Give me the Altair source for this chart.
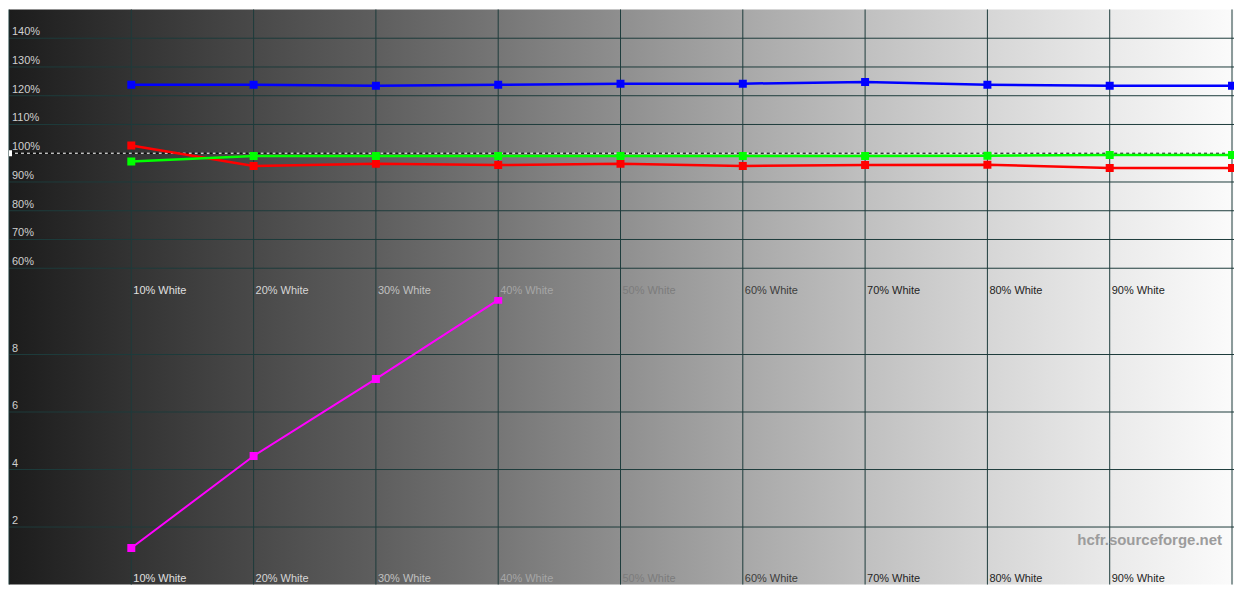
import altair as alt
import pandas as pd

# ---------------- data ----------------
levels = [10, 20, 30, 40, 50, 60, 70, 80, 90, 100]
level_labels = ["10% White", "20% White", "30% White", "40% White", "50% White",
                "60% White", "70% White", "80% White", "90% White"]
label_levels = [10, 20, 30, 40, 50, 60, 70, 80, 90]
red = [102.7, 95.6, 96.3, 95.9, 96.3, 95.6, 95.9, 96.0, 94.9, 94.9]
green = [97.1, 99.0, 99.0, 99.0, 99.0, 99.0, 99.0, 99.1, 99.4, 99.4]
blue = [123.8, 123.8, 123.5, 123.8, 124.2, 124.2, 124.8, 123.8, 123.5, 123.5]
de_levels = [10, 20, 30, 40]
delta_e = [1.27, 4.47, 7.15, 9.9]
pct_ticks = [60, 70, 80, 90, 100, 110, 120, 130, 140]
pct_grid = [60, 70, 80, 90, 110, 120, 130, 140]
pct_tick_labels = ["60%", "70%", "80%", "90%", "100%", "110%", "120%", "130%", "140%"]
de_ticks = [2, 4, 6, 8]
de_tick_labels = ["2", "4", "6", "8"]
x_grid = [0, 10, 20, 30, 40, 50, 60, 70, 80, 90, 100]
reference_level = [100]
watermark = ["hcfr.sourceforge.net"]

# ---------------- style ----------------
W = 1227
H = 288
FONT = "Liberation Sans"
GRID = "#1d3b3b"
label_colors = ["#e0e0e0", "#d6d6d6", "#c0c0c0", "#a6a6a6", "#7c7c7c",
                "#3c3c3c", "#242424", "#242424", "#242424"]
bg_stops = ["#1c1c1c", "#333333", "#494949", "#5e5e5e", "#767676", "#8f8f8f",
            "#a8a8a8", "#c0c0c0", "#d6d6d6", "#eaeaea", "#fbfbfb"]

gradient = alt.LinearGradient(
    gradient="linear", x1=0, x2=1, y1=0, y2=0,
    stops=[alt.GradientStop(offset=i / 10, color=c) for i, c in enumerate(bg_stops)],
)

xs = alt.Scale(domain=[0, 100], range=[0, W - 2], nice=False, zero=False)


def panel(ydomain, grid_vals, tick_vals, tick_labels, series, extra):
    ys = alt.Scale(domain=ydomain, nice=False, zero=False)
    one = pd.DataFrame({"a": [0]})
    bg = alt.Chart(one).mark_rect(fill=gradient, stroke=None).encode(
        x=alt.value(0), x2=alt.value(W), y=alt.value(0), y2=alt.value(H))
    hgrid = alt.Chart(pd.DataFrame({"v": grid_vals})).mark_rule(
        color=GRID, strokeWidth=1).encode(
        y=alt.Y("v:Q", scale=ys, axis=None), x=alt.value(0), x2=alt.value(W))
    vgrid = alt.Chart(pd.DataFrame({"v": x_grid})).mark_rule(
        color=GRID, strokeWidth=1).encode(
        x=alt.X("v:Q", scale=xs, axis=None), y=alt.value(0), y2=alt.value(H))
    ylab = alt.Chart(pd.DataFrame({"v": tick_vals, "t": tick_labels})).mark_text(
        font=FONT, fontSize=11, align="left", baseline="alphabetic", dy=-3,
        color="#cfcfcf").encode(
        y=alt.Y("v:Q", scale=ys, axis=None), x=alt.value(3), text="t:N")
    xlab = alt.Chart(pd.DataFrame({"v": label_levels, "t": level_labels})).mark_text(
        font=FONT, fontSize=11, align="left", baseline="alphabetic", dx=2).encode(
        x=alt.X("v:Q", scale=xs, axis=None), y=alt.value(H - 3), text="t:N",
        color=alt.Color("t:N", scale=alt.Scale(domain=level_labels, range=label_colors),
                        legend=None))
    layers = [bg, hgrid, vgrid, ylab, xlab] + extra
    for xv, yv, col, sw in series:
        df = pd.DataFrame({"x": xv, "y": yv})
        base = alt.Chart(df).encode(
            x=alt.X("x:Q", scale=xs, axis=None), y=alt.Y("y:Q", scale=ys, axis=None))
        layers.append(base.mark_line(color=col, strokeWidth=sw, clip=True))
        layers.append(base.mark_square(color=col, size=64, opacity=1, clip=True))
    return alt.layer(*layers).properties(width=W, height=H)


ys_top = alt.Scale(domain=[50, 150], nice=False, zero=False)
ref_df = pd.DataFrame({"v": reference_level})
dash_w = alt.Chart(ref_df).mark_rule(color="#ffffff", strokeWidth=1, strokeDash=[3, 3]).encode(
    y=alt.Y("v:Q", scale=ys_top, axis=None), x=alt.value(0), x2=alt.value(W))
dash_b = alt.Chart(ref_df).mark_rule(color="#000000", strokeWidth=1, strokeDash=[3, 3],
                                     strokeDashOffset=3).encode(
    y=alt.Y("v:Q", scale=ys_top, axis=None), x=alt.value(0), x2=alt.value(W))
left_marker = alt.Chart(ref_df).mark_square(color="#ffffff", size=36, opacity=1, clip=True).encode(
    y=alt.Y("v:Q", scale=ys_top, axis=None), x=alt.value(0))

top = panel([50, 150], pct_grid, pct_ticks, pct_tick_labels,
            [(levels, blue, "#0000ff", 2.5),
             (levels, red, "#ff0000", 2.5),
             (levels, green, "#00ff00", 2.5)],
            [dash_w, dash_b, left_marker])

wm = alt.Chart(pd.DataFrame({"t": watermark})).mark_text(
    font=FONT, fontSize=15, fontWeight="bold", align="right", baseline="alphabetic",
    color="#9c9c9c").encode(x=alt.value(W - 12), y=alt.value(H - 40), text="t:N")

bottom = panel([0, 10], de_ticks, de_ticks, de_tick_labels,
               [(de_levels, delta_e, "#ff00ff", 2)], [wm])

chart = alt.vconcat(top, bottom, spacing=0, bounds="flush").properties(
    padding=0).configure_view(stroke=None)

chart.save("out.html", embed_options={"renderer": "svg", "actions": False})
